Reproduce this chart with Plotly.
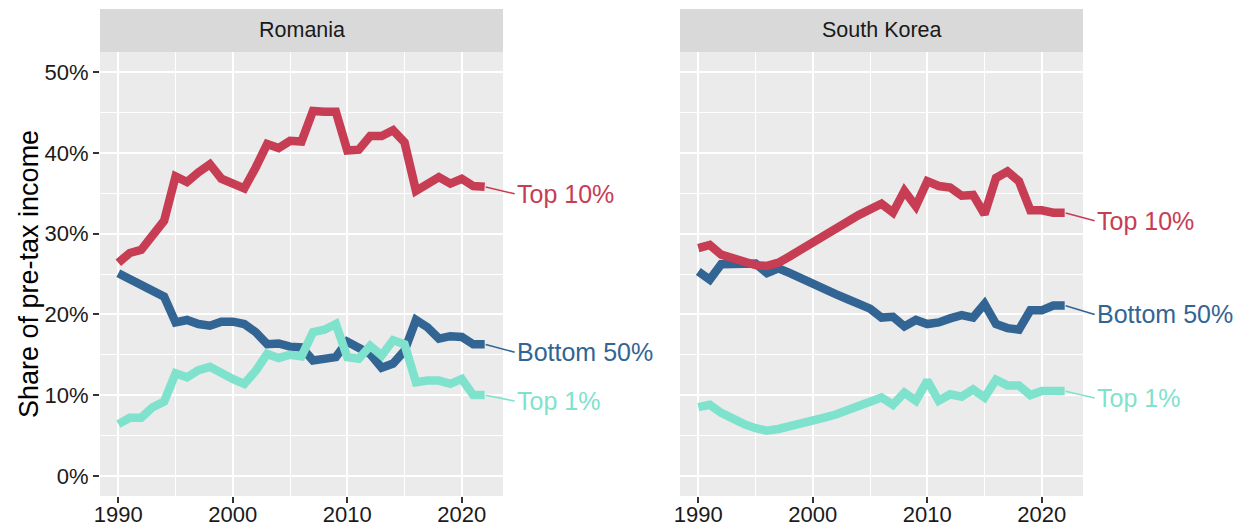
import plotly.graph_objects as go

# Pre-tax income shares (%), 1990-2022
years = list(range(1990, 2023))

romania_top10 = [26.4, 27.6, 28.0, 30.0, 31.6, 37.1, 36.4, 37.6, 38.6, 36.8, 36.2,
                 35.6, 38.2, 41.1, 40.6, 41.5, 41.4, 45.2, 45.1, 45.1, 40.3, 40.4,
                 42.1, 42.1, 42.8, 41.3, 35.3, 36.2, 37.0, 36.2, 36.8, 35.9, 35.8]
romania_bottom50 = [25.1, 24.4, 23.7, 22.9, 22.2, 19.0, 19.3, 18.8, 18.6, 19.1, 19.1,
                    18.8, 17.8, 16.3, 16.4, 16.0, 15.9, 14.3, 14.5, 14.7, 16.6, 15.9,
                    15.1, 13.4, 13.9, 15.5, 19.3, 18.4, 17.0, 17.3, 17.2, 16.3, 16.3]
romania_top1 = [6.4, 7.2, 7.2, 8.5, 9.2, 12.7, 12.2, 13.1, 13.5, 12.6, 12.0,
                11.4, 13.0, 15.1, 14.6, 15.0, 14.8, 17.8, 18.1, 18.8, 14.7, 14.5,
                16.1, 14.9, 16.8, 16.3, 11.6, 11.8, 11.8, 11.4, 12.0, 10.0, 10.0]

korea_top10 = [28.2, 28.6, 27.4, 26.9, 26.5, 26.1, 26.0, 26.4, 27.2, 28.1, 28.9,
               29.7, 30.6, 31.5, 32.3, 33.0, 33.7, 32.6, 35.3, 33.4, 36.5, 35.9,
               35.7, 34.7, 34.8, 32.4, 36.9, 37.7, 36.5, 32.9, 32.9, 32.6, 32.6]
korea_bottom50 = [25.3, 24.3, 26.2, 26.2, 26.3, 26.3, 25.1, 25.7, 25.1, 24.4, 23.7,
                  23.1, 22.5, 21.9, 21.2, 20.7, 19.6, 19.7, 18.5, 19.3, 18.8, 19.0,
                  19.5, 19.9, 19.6, 21.3, 18.8, 18.3, 18.1, 20.5, 20.5, 21.1, 21.1]
korea_top1 = [8.5, 8.8, 7.8, 7.0, 6.4, 5.9, 5.6, 5.8, 6.1, 6.4, 6.8,
              7.2, 7.6, 8.1, 8.7, 9.2, 9.7, 8.8, 10.3, 9.3, 11.8, 9.3,
              10.1, 9.8, 10.7, 9.7, 11.9, 11.2, 11.2, 10.0, 10.5, 10.5, 10.5]

countries = ["Romania", "South Korea"]
groups = ["Bottom 50%", "Top 10%", "Top 1%"]
series = {
    "Romania": {"Bottom 50%": romania_bottom50, "Top 10%": romania_top10, "Top 1%": romania_top1},
    "South Korea": {"Bottom 50%": korea_bottom50, "Top 10%": korea_top10, "Top 1%": korea_top1},
}
colors = {"Top 10%": "#C63D54", "Bottom 50%": "#326594", "Top 1%": "#7FE2CC"}

x_ticks = [1990, 2000, 2010, 2020]
y_ticks = [0, 10, 20, 30, 40, 50]
y_tick_labels = ["0%", "10%", "20%", "30%", "40%", "50%"]

# pixel nudges for the end-of-line labels (right, down)
label_nudge = {
    "Romania": {"Top 10%": (30, 7), "Bottom 50%": (30, 8), "Top 1%": (30, 6)},
    "South Korea": {"Top 10%": (30, 8), "Bottom 50%": (30, 9), "Top 1%": (30, 7)},
}

W, H = 1244, 526
FONT = "Liberation Sans, Arial, Helvetica, sans-serif"
x_domains = [(100 / W, 503 / W), (680 / W, 1083 / W)]
y_domain = ((H - 496) / H, (H - 52) / H)
strip_top = (H - 9) / H

fig = go.Figure()
annotations = []
shapes = []

for i, country in enumerate(countries):
    xa = "x" if i == 0 else "x2"
    ya = "y" if i == 0 else "y2"
    for g in groups:
        vals = series[country][g]
        fig.add_trace(go.Scatter(
            x=years, y=vals, mode="lines", xaxis=xa, yaxis=ya,
            line=dict(color=colors[g], width=8.5),
            showlegend=False, hoverinfo="skip",
        ))
        dx, dy = label_nudge[country][g]
        annotations.append(dict(
            x=years[-1], y=vals[-1], xref=xa, yref=ya,
            text=g, showarrow=True, arrowhead=0, arrowwidth=1.6,
            arrowcolor=colors[g], ax=dx, ay=dy, standoff=1,
            xanchor="left", yanchor="middle",
            font=dict(family=FONT, size=25, color=colors[g]),
        ))
    # facet strip
    x0, x1 = x_domains[i]
    shapes.append(dict(type="rect", xref="paper", yref="paper",
                       x0=x0, x1=x1, y0=y_domain[1], y1=strip_top,
                       fillcolor="#D9D9D9", line=dict(width=0), layer="below"))
    annotations.append(dict(
        x=(x0 + x1) / 2, y=(y_domain[1] + strip_top) / 2, xref="paper", yref="paper",
        text=country, showarrow=False, xanchor="center", yanchor="middle",
        font=dict(family=FONT, size=21.5, color="#1A1A1A"),
    ))

annotations.append(dict(
    x=29 / W, y=(y_domain[0] + y_domain[1]) / 2, xref="paper", yref="paper",
    text="Share of pre-tax income", textangle=-90, showarrow=False,
    xanchor="center", yanchor="middle",
    font=dict(family=FONT, size=27, color="#000000"),
))

xaxis_common = dict(
    range=[1988.4, 2023.6], tickmode="array", tickvals=x_ticks,
    showgrid=True, gridcolor="white", gridwidth=2,
    minor=dict(tickvals=[1995, 2005, 2015], showgrid=True, gridcolor="white", gridwidth=1.2),
    ticks="outside", ticklen=6, tickwidth=2, tickcolor="#333333",
    tickfont=dict(family=FONT, size=22, color="#1A1A1A"), ticklabelstandoff=-7,
    zeroline=False, showline=False, automargin=False,
)
yaxis_common = dict(
    range=[-2.5, 52.5], tickmode="array", tickvals=y_ticks,
    showgrid=True, gridcolor="white", gridwidth=2,
    minor=dict(tickvals=[5, 15, 25, 35, 45], showgrid=True, gridcolor="white", gridwidth=1.2),
    zeroline=False, showline=False, domain=list(y_domain), automargin=False,
)

fig.update_layout(
    width=W, height=H,
    margin=dict(l=0, r=0, t=0, b=0),
    paper_bgcolor="white", plot_bgcolor="#EBEBEB",
    xaxis=dict(xaxis_common, domain=list(x_domains[0]), anchor="y"),
    xaxis2=dict(xaxis_common, domain=list(x_domains[1]), anchor="y2"),
    yaxis=dict(yaxis_common, anchor="x", ticks="outside", ticklen=6, tickwidth=2,
               tickcolor="#333333", ticktext=y_tick_labels,
               tickfont=dict(family=FONT, size=22, color="#1A1A1A")),
    yaxis2=dict(yaxis_common, anchor="x2", matches="y", showticklabels=False, ticks=""),
    shapes=shapes,
    annotations=annotations,
)

fig.write_html("out.html")
